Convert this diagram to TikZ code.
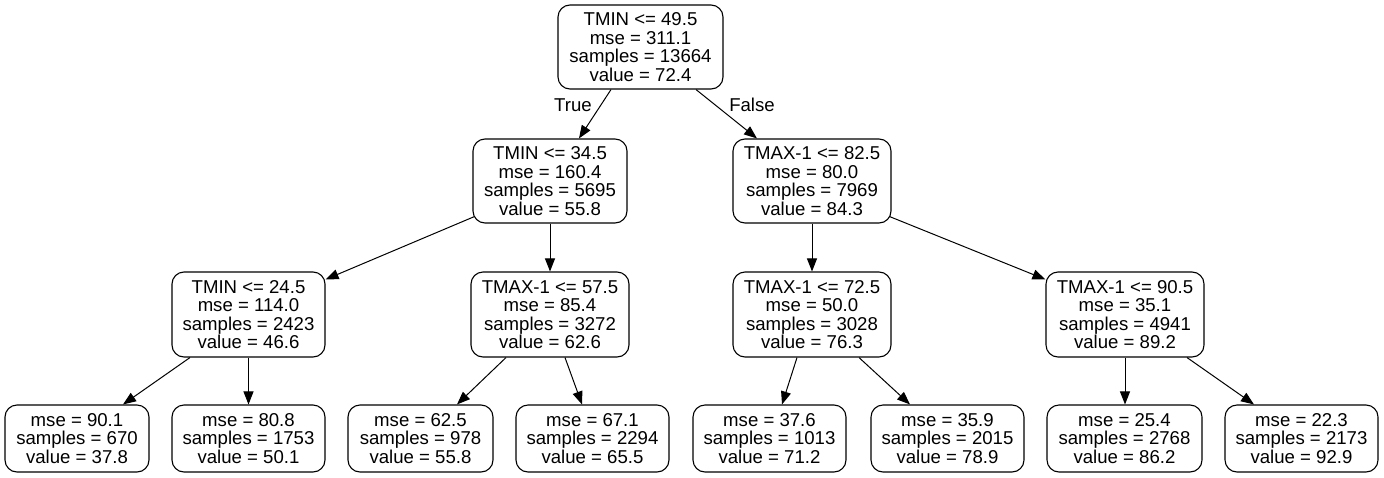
\documentclass[tikz,border=0pt]{standalone}
\usepackage{fontspec}
\setmainfont{Liberation Sans}
\usetikzlibrary{arrows.meta,calc}
\begin{document}
\begin{tikzpicture}[x=1pt,y=-1pt,
  tnode/.style={draw, rounded corners=12pt, line width=1.1pt, inner sep=0pt, align=center,
    font=\fontsize{18.6}{18.5}\selectfont},
  inner/.style={tnode, minimum height=84pt},
  leaf/.style={tnode, minimum height=67pt},
  edge/.style={line width=1pt, -{Triangle[length=13pt,width=10pt]}},
  elabel/.style={font=\fontsize{18.6}{18.5}\selectfont, inner sep=0pt}]
\useasboundingbox[fill=white] (0,0) rectangle (1384,477);
% level 0
\node[inner, minimum width=165pt] (root) at (640.5,47) {TMIN <= 49.5\\mse = 311.1\\samples = 13664\\value = 72.4};
% level 1
\node[inner, minimum width=154pt] (l1a) at (550,181) {TMIN <= 34.5\\mse = 160.4\\samples = 5695\\value = 55.8};
\node[inner, minimum width=158pt] (l1b) at (812,181) {TMAX-1 <= 82.5\\mse = 80.0\\samples = 7969\\value = 84.3};
% level 2
\node[inner, minimum width=153pt, minimum height=85pt] (l2a) at (248.5,314.5) {TMIN <= 24.5\\mse = 114.0\\samples = 2423\\value = 46.6};
\node[inner, minimum width=158pt, minimum height=85pt] (l2b) at (550,314.5) {TMAX-1 <= 57.5\\mse = 85.4\\samples = 3272\\value = 62.6};
\node[inner, minimum width=158pt, minimum height=85pt] (l2c) at (812,314.5) {TMAX-1 <= 72.5\\mse = 50.0\\samples = 3028\\value = 76.3};
\node[inner, minimum width=158pt, minimum height=85pt] (l2d) at (1125,314.5) {TMAX-1 <= 90.5\\mse = 35.1\\samples = 4941\\value = 89.2};
% leaves
\node[leaf, minimum width=144pt] (f1) at (77,438.5) {mse = 90.1\\samples = 670\\value = 37.8};
\node[leaf, minimum width=153pt] (f2) at (248.5,438.5) {mse = 80.8\\samples = 1753\\value = 50.1};
\node[leaf, minimum width=145pt] (f3) at (420.5,438.5) {mse = 62.5\\samples = 978\\value = 55.8};
\node[leaf, minimum width=153pt] (f4) at (592.5,438.5) {mse = 67.1\\samples = 2294\\value = 65.5};
\node[leaf, minimum width=153pt] (f5) at (769.5,438.5) {mse = 37.6\\samples = 1013\\value = 71.2};
\node[leaf, minimum width=153pt] (f6) at (947.5,438.5) {mse = 35.9\\samples = 2015\\value = 78.9};
\node[leaf, minimum width=155pt] (f7) at (1124.5,438.5) {mse = 25.4\\samples = 2768\\value = 86.2};
\node[leaf, minimum width=153pt] (f8) at (1301.5,438.5) {mse = 22.3\\samples = 2173\\value = 92.9};
% edges
\draw[edge] ($(root.south)+(-29.5,0)$) -- ($(l1a.north)+(29,0)$);
\draw[edge] ($(root.south)+(55.5,0)$) -- ($(l1b.north)+(-55,0)$);
\draw[edge] ($(l1a.south west)+(2,-7)$) -- ($(l2a.north east)+(0,8)$);
\draw[edge] (l1a.south) -- (l2b.north);
\draw[edge] (l1b.south) -- (l2c.north);
\draw[edge] ($(l1b.south east)+(-2,-7)$) -- ($(l2d.north west)+(0,8)$);
\draw[edge] ($(l2a.south)+(-58.5,0)$) -- ($(f1.north)+(46,0)$);
\draw[edge] (l2a.south) -- (f2.north);
\draw[edge] ($(l2b.south)+(-44,0)$) -- ($(f3.north)+(36.5,0)$);
\draw[edge] ($(l2b.south)+(15,0)$) -- ($(f4.north)+(-10.5,0)$);
\draw[edge] ($(l2c.south)+(-15,0)$) -- ($(f5.north)+(12.5,0)$);
\draw[edge] ($(l2c.south)+(47,0)$) -- ($(f6.north)+(-37.5,0)$);
\draw[edge] (l2d.south) -- (l2d.south |- f7.north);
\draw[edge] ($(l2d.south)+(62,0)$) -- ($(f8.north)+(-47.5,0)$);
% edge labels
\node[elabel] (tl) at (573,105) {True};
\node[elabel] (fl) at (752,105) {False};
\end{tikzpicture}
\end{document}
